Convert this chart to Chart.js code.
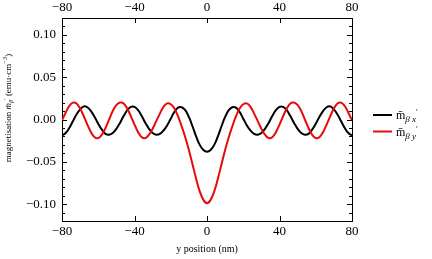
<!DOCTYPE html>
<html>
<head>
<meta charset="utf-8">
<script src="https://cdn.jsdelivr.net/npm/chart.js@4/dist/chart.umd.min.js"></script>
<style>
  html, body { margin: 0; padding: 0; background: #fff; }
  canvas { display: block; }
</style>
</head>
<body>
<canvas id="chart" width="432" height="259"></canvas>
<script>
// y position (nm)
const positions = [
  -80, -78, -76, -74, -72, -70, -68, -66, -64, -62, -60, -58, -56, -54, -52, -50, -48, -46, -44, -42,
  -40, -38, -36, -34, -32, -30, -28, -26, -24, -22, -20, -18, -16, -14, -12, -10, -8, -6, -4, -2,
  0,
  2, 4, 6, 8, 10, 12, 14, 16, 18, 20, 22, 24, 26, 28, 30, 32, 34, 36, 38, 40,
  42, 44, 46, 48, 50, 52, 54, 56, 58, 60, 62, 64, 66, 68, 70, 72, 74, 76, 78, 80
];

// m_beta_x' (black)
const mBetaX = [
  -0.019, -0.016, -0.010, -0.002, 0.006, 0.012, 0.0155, 0.0145, 0.010, 0.003,
  -0.005, -0.012, -0.017, -0.018, -0.016, -0.011, -0.004, 0.004, 0.011, 0.015,
  0.015, 0.011, 0.004, -0.004, -0.011, -0.016, -0.018, -0.017, -0.013, -0.007,
  0.001, 0.009, 0.014, 0.0145, 0.011, 0.003, -0.008, -0.020, -0.030, -0.036,
  -0.038,
  -0.036, -0.030, -0.020, -0.008, 0.003, 0.011, 0.0145, 0.014, 0.009, 0.001,
  -0.007, -0.013, -0.017, -0.018, -0.016, -0.011, -0.004, 0.004, 0.011, 0.015,
  0.015, 0.011, 0.004, -0.004, -0.011, -0.016, -0.018, -0.017, -0.012, -0.005,
  0.003, 0.010, 0.0145, 0.0155, 0.012, 0.006, -0.002, -0.010, -0.016, -0.019
];

// m_beta_y' (red)
const mBetaY = [
  -0.001, 0.008, 0.016, 0.020, 0.019, 0.013, 0.004, -0.006, -0.015, -0.021,
  -0.022, -0.018, -0.010, 0.000, 0.010, 0.017, 0.020, 0.019, 0.013, 0.004,
  -0.006, -0.015, -0.021, -0.022, -0.018, -0.011, -0.002, 0.007, 0.015, 0.019,
  0.018, 0.013, 0.004, -0.008, -0.021, -0.036, -0.053, -0.070, -0.085, -0.095,
  -0.099,
  -0.095, -0.085, -0.070, -0.053, -0.036, -0.021, -0.008, 0.004, 0.013, 0.018,
  0.019, 0.015, 0.007, -0.002, -0.011, -0.018, -0.022, -0.021, -0.015, -0.006,
  0.004, 0.013, 0.019, 0.020, 0.017, 0.010, 0.000, -0.010, -0.018, -0.022,
  -0.021, -0.015, -0.006, 0.004, 0.013, 0.019, 0.020, 0.016, 0.008, -0.001
];

const xTicks = [-80, -40, 0, 40, 80];
const yTicks = [-0.10, -0.05, 0.00, 0.05, 0.10];

const SERIF = "'Liberation Serif', 'Times New Roman', serif";
const RED = "rgb(230,10,10)";

const fmt = (v, d) => (v < -1e-9 ? "\u2212" + Math.abs(v).toFixed(d) : Math.abs(v).toFixed(d));

// draw a run of text pieces [text, font, dy] starting at x,y
function drawRuns(ctx, runs, x, y) {
  runs.forEach(([t, f, dy]) => {
    ctx.font = f;
    ctx.fillText(t, x, y + dy);
    x += ctx.measureText(t).width;
  });
}
function runsWidth(ctx, runs) {
  let w = 0;
  runs.forEach(([t, f]) => { ctx.font = f; w += ctx.measureText(t).width; });
  return w;
}

const frame = {
  id: "frame",
  afterDraw(chart) {
    const { ctx, chartArea: a, scales } = chart;
    ctx.save();
    ctx.strokeStyle = "#000";
    ctx.lineWidth = 1;
    ctx.beginPath();
    // x ticks, top and bottom, inward
    xTicks.forEach(v => {
      const px = Math.round(scales.x.getPixelForValue(v)) + 0.5;
      ctx.moveTo(px, a.bottom); ctx.lineTo(px, a.bottom - 5);
      ctx.moveTo(px, a.top); ctx.lineTo(px, a.top + 5);
    });
    // y ticks every 0.01, majors every 0.05
    for (let k = -11; k <= 11; k++) {
      const v = k / 100;
      const len = k % 5 === 0 ? 5 : 3;
      const py = Math.round(scales.y.getPixelForValue(v)) + 0.5;
      ctx.moveTo(a.left, py); ctx.lineTo(a.left + len, py);
      ctx.moveTo(a.right, py); ctx.lineTo(a.right - len, py);
    }
    ctx.stroke();

    ctx.fillStyle = "#000";
    ctx.textBaseline = "alphabetic";
    ctx.textAlign = "left";

    // y axis title, rotated
    const titleRuns = [
      ["magnetisation ", "9px " + SERIF, 0],
      ["m\u0304", "italic 9px " + SERIF, 0],
      ["\u03B2", "italic 6.5px " + SERIF, 2],
      ["\u2032", "6.5px " + SERIF, -3],
      [" (emu\u00B7cm", "9px " + SERIF, 0],
      ["\u22123", "6.5px " + SERIF, -4],
      [")", "9px " + SERIF, 0]
    ];
    const tw = runsWidth(ctx, titleRuns);
    ctx.save();
    ctx.translate(11, 108);
    ctx.rotate(-Math.PI / 2);
    drawRuns(ctx, titleRuns, -tw / 2, 0);
    ctx.restore();

    // x axis title
    ctx.font = "10px " + SERIF;
    ctx.textAlign = "center";
    ctx.fillText("y position (nm)", (a.left + a.right) / 2, 252);
    ctx.textAlign = "left";

    // legend
    const items = [["x", "#000", 115], ["y", RED, 131.5]];
    items.forEach(([c, col, y]) => {
      ctx.strokeStyle = col;
      ctx.lineWidth = 2;
      ctx.beginPath();
      ctx.moveTo(373, y); ctx.lineTo(392, y);
      ctx.stroke();
      ctx.fillStyle = "#000";
      drawRuns(ctx, [
        ["m\u0304", "12px " + SERIF, 0],
        ["\u03B2 " + c, "italic 9px " + SERIF, 3],
        ["\u2032", "8px " + SERIF, -4]
      ], 396, y + 4);
    });
    ctx.restore();
  }
};

const xAxisCommon = {
  type: "linear",
  min: -80,
  max: 80,
  grid: { display: false, drawTicks: false, tickLength: 0 },
  border: { display: true, color: "#000", width: 1 },
  ticks: {
    stepSize: 40,
    color: "#000",
    font: { family: SERIF, size: 13 },
    padding: 3,
    maxRotation: 0,
    callback: v => fmt(v, 0)
  }
};

new Chart(document.getElementById("chart"), {
  type: "line",
  data: {
    datasets: [
      {
        label: "m_beta_x'",
        data: positions.map((p, i) => ({ x: p, y: mBetaX[i] })),
        borderColor: "#000",
        borderWidth: 2,
        pointRadius: 0,
        tension: 0.4,
        order: 2
      },
      {
        label: "m_beta_y'",
        data: positions.map((p, i) => ({ x: p, y: mBetaY[i] })),
        borderColor: RED,
        borderWidth: 2,
        pointRadius: 0,
        tension: 0.4,
        order: 1
      }
    ]
  },
  options: {
    responsive: false,
    animation: false,
    devicePixelRatio: 1,
    layout: { padding: 0 },
    plugins: { legend: { display: false }, tooltip: { enabled: false } },
    scales: {
      x: { ...xAxisCommon, position: "bottom", afterFit: s => { s.height = 38; } },
      x2: { ...xAxisCommon, position: "top", afterFit: s => { s.height = 18; } },
      y: {
        type: "linear",
        position: "left",
        min: -0.12,
        max: 0.12,
        grid: { display: false, drawTicks: false, tickLength: 0 },
        border: { display: true, color: "#000", width: 1 },
        ticks: {
          stepSize: 0.05,
          includeBounds: false,
          color: "#000",
          font: { family: SERIF, size: 13 },
          padding: 6,
          callback: v => fmt(v, 2)
        },
        afterFit: s => { s.width = 62; }
      },
      y2: {
        type: "linear",
        position: "right",
        min: -0.12,
        max: 0.12,
        grid: { display: false, drawTicks: false, tickLength: 0 },
        border: { display: true, color: "#000", width: 1 },
        ticks: { display: false },
        afterFit: s => { s.width = 80; }
      }
    }
  },
  plugins: [frame]
});
</script>
</body>
</html>
